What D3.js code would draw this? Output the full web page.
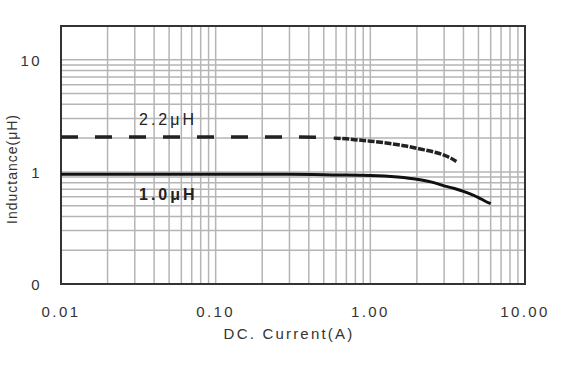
<!DOCTYPE html>
<meta charset="utf-8">
<head>
    <title>Inductance vs DC Current</title>
    <script type="text/javascript" src="https://cdn.jsdelivr.net/npm/d3@7"></script>
    <style>
        body { margin: 0; background: #fff; }
        text { font-family: "Liberation Sans", Arial, sans-serif; fill: #333; }
        .tick-label { font-size: 15px; letter-spacing: 2.4px; }
        .axis-title { font-size: 15px; letter-spacing: 2.2px; }
        .series-label { font-size: 16px; letter-spacing: 3px; fill: #222; }
    </style>
</head>
<body>
<div id="chart"></div>
<script>
    // data (current in A, inductance in uH)
    var current22 = [0.01, 0.02, 0.05, 0.1, 0.2, 0.3, 0.45, 0.55];
    var induct22 = [2.05, 2.05, 2.05, 2.05, 2.05, 2.05, 2.04, 2.02];
    // the tail of the 2.2uH curve is drawn with a tight dash (many points)
    var current22b = [0.58, 0.7, 0.85, 1.0, 1.3, 1.7, 2.1, 2.6, 3.0, 3.3, 3.6];
    var induct22b = [2.0, 1.97, 1.92, 1.88, 1.8, 1.7, 1.6, 1.5, 1.41, 1.33, 1.24];

    var current10 = [0.01, 0.1, 0.3, 0.6, 1.0, 1.5, 2.0, 2.5, 3.0, 3.5, 4.0, 4.5, 5.0, 5.5, 6.0];
    var induct10 = [0.95, 0.95, 0.95, 0.94, 0.93, 0.90, 0.86, 0.81, 0.75, 0.71, 0.67, 0.63, 0.59, 0.55, 0.52];

    var xTicks = [0.01, 0.1, 1, 10];
    var xTickLabels = ["0.01", "0.10", "1.00", "10.00"];
    var yTicks = [0.1, 1, 10];
    var yTickLabels = ["0", "1", "10"];

    var margin = { top: 26, right: 41, bottom: 86, left: 61 };
    var width = 566;
    var height = 370;
    var innerW = width - margin.left - margin.right;
    var innerH = height - margin.top - margin.bottom;

    var svg = d3.select("#chart")
        .append("svg")
        .attr("width", width)
        .attr("height", height);

    var g = svg.append("g")
        .attr("transform", "translate(" + margin.left + "," + margin.top + ")");

    var x = d3.scaleLog().domain([0.01, 10]).range([0, innerW]);
    var y = d3.scaleLog().domain([0.1, 20]).range([innerH, 0]);

    // grid lines (1..9 per decade)
    g.selectAll(".vgrid")
        .data(x.ticks())
        .enter()
        .append("line")
        .attr("x1", function (d) { return x(d); })
        .attr("x2", function (d) { return x(d); })
        .attr("y1", 0)
        .attr("y2", innerH)
        .attr("stroke", "#b5b5b5")
        .attr("stroke-width", 1.5);

    g.selectAll(".hgrid")
        .data(y.ticks().filter(function (d) { return d < 20; }))
        .enter()
        .append("line")
        .attr("x1", 0)
        .attr("x2", innerW)
        .attr("y1", function (d) { return y(d); })
        .attr("y2", function (d) { return y(d); })
        .attr("stroke", "#b5b5b5")
        .attr("stroke-width", 1.5);

    // frame
    g.append("rect")
        .attr("width", innerW)
        .attr("height", innerH)
        .attr("fill", "none")
        .attr("stroke", "#333")
        .attr("stroke-width", 2);

    // tick labels
    g.selectAll(".xlab")
        .data(xTicks)
        .enter()
        .append("text")
        .attr("class", "tick-label")
        .attr("x", function (d) { return x(d); })
        .attr("y", innerH + 33)
        .attr("text-anchor", "middle")
        .text(function (d, i) { return xTickLabels[i]; });

    g.selectAll(".ylab")
        .data(yTicks)
        .enter()
        .append("text")
        .attr("class", "tick-label")
        .attr("x", -19)
        .attr("y", function (d) { return y(d) + 6; })
        .attr("text-anchor", "end")
        .text(function (d, i) { return yTickLabels[i]; });

    // axis titles
    svg.append("text")
        .attr("class", "axis-title")
        .attr("x", 289)
        .attr("y", 339)
        .attr("text-anchor", "middle")
        .text("DC. Current(A)");

    svg.append("text")
        .attr("class", "axis-title")
        .attr("transform", "translate(17,169) rotate(-90)")
        .attr("text-anchor", "middle")
        .style("font-size", "14px")
        .style("letter-spacing", "1px")
        .text("Inductance(μH)");

    var line = d3.line()
        .x(function (d) { return x(d[0]); })
        .y(function (d) { return y(d[1]); })
        .curve(d3.curveMonotoneX);

    function pairs(xs, ys) {
        return xs.map(function (v, i) { return [v, ys[i]]; });
    }

    // 2.2uH dashed curve
    g.append("path")
        .datum(pairs(current22, induct22))
        .attr("d", line)
        .attr("fill", "none")
        .attr("stroke", "#222")
        .attr("stroke-width", 3.5)
        .attr("stroke-dasharray", "17,17");

    g.append("path")
        .datum(pairs(current22b, induct22b))
        .attr("d", line)
        .attr("fill", "none")
        .attr("stroke", "#222")
        .attr("stroke-width", 3.5)
        .attr("stroke-dasharray", "7,1.5");

    // 1.0uH solid curve
    g.append("path")
        .datum(pairs(current10, induct10))
        .attr("d", line)
        .attr("fill", "none")
        .attr("stroke", "#111")
        .attr("stroke-width", 3);

    // series labels
    svg.append("text")
        .attr("class", "series-label")
        .attr("x", 139)
        .attr("y", 125)
        .text("2.2μH");

    svg.append("text")
        .attr("class", "series-label")
        .attr("x", 139)
        .attr("y", 200)
        .style("font-weight", "bold")
        .text("1.0μH");
</script>
</body>
